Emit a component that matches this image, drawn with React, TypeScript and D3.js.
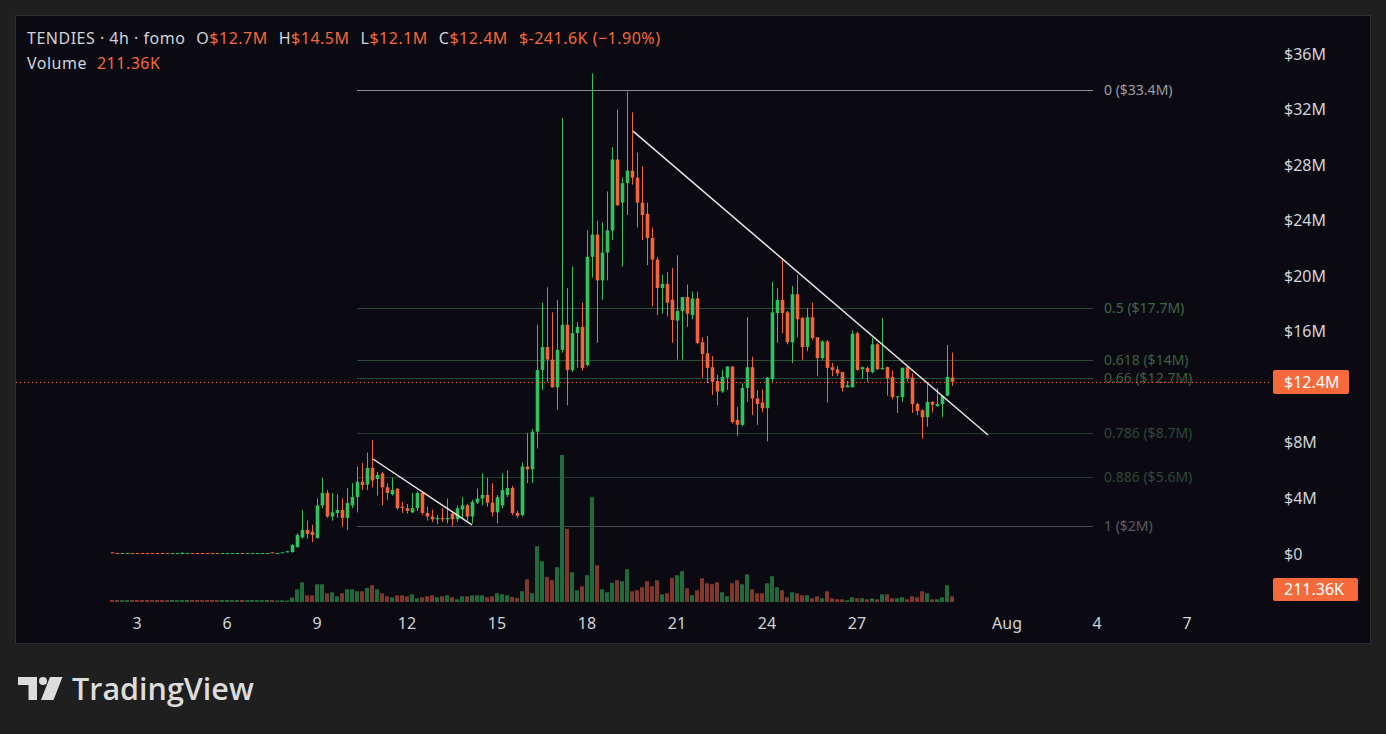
import * as d3 from 'd3';

// 4h candles, first bar opens Jul 2 04:00
const startTime = new Date(2024, 6, 2, 4);

const opens = [
  0.12, 0.07, 0.05, 0.05, 0.07, 0.07, 0.07, 0.07, 0.07, 0.07, 0.07, 0.07, 0.05, 0.05, 0.05, 0.05, 0.07, 0.07,
  0.07, 0.07, 0.07, 0.07, 0.05, 0.05, 0.05, 0.05, 0.07, 0.05, 0.05, 0.05, 0.05, 0.05, 0.12, 0.05, 0.08, 0.12,
  0.14, 0.5, 1.2, 1.73, 1.58, 1.15, 3.5, 4.4, 2.7, 2.95, 3.17, 2.6, 3.5, 4.1, 5.2, 5.0, 6.2, 5.4,
  5.8, 4.8, 4.3, 4.7, 3.4, 3.3, 3.0, 3.3, 4.4, 2.95, 2.7, 2.5, 2.6, 2.5, 2.9, 2.5, 3.2, 3.5,
  2.7, 3.7, 4.0, 4.25, 3.7, 3.0, 3.5, 4.25, 4.75, 2.95, 2.8, 6.3, 6.1, 8.8, 13.25, 14.9, 14.0, 12.0,
  14.7, 16.5, 13.25, 15.9, 16.35, 13.6, 21.4, 23.0, 19.7, 21.7, 23.3, 28.4, 25.3, 26.7, 27.6, 27.1, 25.3, 24.5,
  22.75, 21.2, 19.15, 19.45, 18.3, 16.8, 17.5, 18.5, 17.2, 18.4, 15.25, 14.45, 13.45, 12.45, 11.7, 12.7, 13.5, 9.65,
  9.3, 11.95, 13.45, 11.2, 10.9, 10.5, 12.6, 17.35, 18.3, 17.4, 15.25, 18.7, 17.0, 14.9, 17.05, 15.6, 14.1, 15.3,
  13.45, 13.3, 13.1, 12.0, 12.0, 15.9, 13.3, 13.4, 13.1, 15.1, 13.3, 13.45, 12.75, 11.3, 11.3, 13.45, 12.7, 10.8,
  10.35, 9.85, 10.95, 10.65, 10.8, 11.4, 12.7,
];
const highs = [
  0.13, 0.08, 0.07, 0.07, 0.07, 0.07, 0.07, 0.07, 0.07, 0.07, 0.07, 0.07, 0.07, 0.07, 0.15, 0.07, 0.07, 0.07,
  0.07, 0.07, 0.07, 0.07, 0.07, 0.07, 0.07, 0.07, 0.07, 0.07, 0.07, 0.07, 0.07, 0.07, 0.13, 0.07, 0.12, 0.22,
  0.7, 1.5, 3.17, 2.4, 2.1, 4.0, 5.5, 4.6, 4.4, 4.3, 4.0, 4.75, 5.1, 6.3, 6.55, 7.3, 8.2, 5.9,
  5.9, 5.1, 5.5, 4.75, 3.75, 3.6, 4.4, 4.5, 4.5, 3.4, 3.2, 2.8, 3.3, 4.0, 3.1, 3.5, 4.1, 3.6,
  3.9, 4.7, 5.8, 5.5, 5.1, 4.25, 5.8, 6.0, 4.9, 3.1, 6.6, 8.7, 9.0, 16.5, 18.1, 19.2, 17.4, 18.3,
  31.4, 19.15, 20.7, 16.7, 18.1, 23.3, 34.6, 24.0, 23.9, 26.1, 29.3, 32.0, 27.1, 33.3, 31.8, 28.9, 27.9, 25.3,
  23.5, 21.4, 20.1, 20.3, 20.6, 21.5, 18.5, 19.4, 18.9, 18.9, 15.6, 15.7, 14.25, 12.9, 13.25, 13.5, 13.5, 10.6,
  12.3, 17.05, 14.2, 11.8, 11.85, 12.75, 19.6, 19.15, 21.3, 17.5, 19.3, 20.1, 17.05, 17.7, 18.1, 15.6, 15.4, 15.4,
  13.75, 13.55, 13.1, 12.45, 16.1, 16.0, 13.5, 13.5, 15.55, 15.2, 17.0, 13.5, 13.2, 11.35, 13.45, 13.5, 13.0, 10.9,
  10.4, 12.3, 11.0, 11.95, 11.45, 15.05, 14.5,
];
const lows = [
  0.1, 0.05, 0.05, 0.05, 0.05, 0.05, 0.05, 0.05, 0.05, 0.05, 0.05, 0.05, 0.05, 0.05, 0.05, 0.05, 0.05, 0.05,
  0.05, 0.05, 0.05, 0.05, 0.05, 0.05, 0.05, 0.05, 0.05, 0.05, 0.05, 0.05, 0.05, 0.05, 0.1, 0.05, 0.08, 0.12,
  0.1, 0.45, 1.1, 1.1, 0.86, 1.1, 3.3, 2.6, 2.4, 2.6, 1.95, 1.73, 3.3, 3.0, 4.6, 4.6, 4.8, 4.2,
  3.5, 3.9, 4.2, 3.2, 2.95, 2.9, 2.95, 3.1, 2.8, 2.4, 2.3, 2.15, 2.3, 2.2, 2.0, 2.3, 2.6, 2.4,
  2.2, 3.6, 3.5, 3.4, 2.7, 2.2, 3.3, 4.1, 2.8, 2.6, 2.7, 5.1, 5.1, 7.6, 11.8, 12.4, 12.0, 10.4,
  14.5, 10.7, 13.1, 13.4, 13.2, 13.5, 19.9, 15.2, 18.3, 19.7, 22.6, 25.1, 20.7, 24.4, 26.6, 23.5, 22.6, 20.8,
  17.8, 17.2, 17.3, 17.1, 15.2, 14.0, 14.0, 16.35, 16.9, 15.1, 12.7, 12.3, 11.45, 10.7, 11.6, 11.8, 9.4, 8.5,
  9.2, 10.95, 10.0, 9.3, 10.2, 8.1, 12.4, 15.2, 15.9, 15.1, 13.75, 15.6, 14.0, 14.6, 15.4, 12.8, 14.0, 10.9,
  12.8, 12.8, 11.7, 12.0, 12.0, 13.2, 12.6, 12.4, 13.0, 13.25, 13.3, 11.4, 11.15, 10.15, 10.95, 12.4, 10.15, 10.0,
  8.3, 9.15, 10.2, 10.6, 9.85, 11.35, 12.1,
];
const closes = [
  0.1, 0.05, 0.07, 0.07, 0.05, 0.05, 0.05, 0.05, 0.05, 0.05, 0.05, 0.05, 0.07, 0.07, 0.07, 0.07, 0.05, 0.05,
  0.05, 0.05, 0.05, 0.05, 0.07, 0.07, 0.07, 0.07, 0.05, 0.07, 0.07, 0.07, 0.07, 0.07, 0.1, 0.07, 0.12, 0.2,
  0.65, 1.37, 1.73, 1.44, 1.37, 3.5, 4.4, 2.7, 3.0, 3.17, 2.6, 3.67, 4.1, 5.2, 4.97, 6.2, 5.3, 5.7,
  4.8, 4.4, 4.6, 3.3, 3.3, 3.1, 3.3, 4.4, 2.95, 2.7, 2.5, 2.6, 2.5, 2.6, 2.5, 3.3, 3.5, 2.7,
  3.75, 4.0, 4.25, 3.7, 3.0, 4.1, 4.6, 4.75, 2.95, 2.75, 6.3, 6.1, 8.8, 13.25, 14.9, 14.0, 12.0, 14.7,
  16.5, 13.25, 15.9, 16.35, 13.4, 21.4, 23.0, 19.7, 21.7, 23.3, 28.4, 25.1, 26.7, 27.6, 27.1, 25.3, 24.4, 22.75,
  21.2, 19.15, 19.45, 18.1, 16.85, 17.5, 18.5, 17.3, 18.4, 15.2, 14.4, 13.4, 12.4, 11.7, 12.75, 13.5, 9.5, 9.3,
  11.95, 13.45, 11.2, 10.8, 10.5, 12.7, 17.4, 18.3, 17.35, 15.25, 18.7, 16.9, 14.9, 17.05, 15.55, 14.1, 15.3, 13.4,
  13.25, 13.0, 11.95, 12.15, 15.85, 13.25, 13.45, 13.1, 15.1, 13.3, 13.4, 12.65, 11.3, 11.35, 13.4, 12.65, 10.8, 10.3,
  9.85, 10.95, 10.75, 10.8, 11.4, 12.75, 12.4,
];
// volume in K
const volumes = [
  74, 74, 70, 70, 74, 78, 74, 74, 70, 74, 74, 70, 74, 70, 78, 74, 74, 74,
  70, 74, 74, 70, 74, 74, 70, 74, 74, 70, 74, 74, 70, 74, 74, 59, 66, 56,
  166, 470, 729, 248, 248, 655, 655, 322, 359, 211, 322, 470, 470, 396, 396, 518, 618, 470,
  322, 211, 174, 248, 248, 211, 285, 137, 174, 211, 248, 174, 211, 248, 174, 100, 211, 211,
  248, 248, 248, 174, 211, 322, 285, 248, 185, 148, 396, 840, 322, 2061, 1506, 925, 803, 1284,
  5428, 2701, 1099, 433, 581, 988, 3874, 1358, 470, 359, 703, 803, 766, 1210, 396, 433, 544, 766,
  581, 803, 285, 322, 888, 988, 1136, 507, 248, 433, 877, 692, 655, 729, 359, 211, 692, 803,
  655, 1025, 470, 322, 322, 692, 951, 544, 433, 174, 359, 322, 248, 248, 137, 211, 137, 396,
  137, 100, 100, 63, 174, 137, 137, 100, 137, 100, 285, 285, 137, 137, 174, 100, 211, 174,
  396, 322, 100, 100, 174, 618, 211.36,
];

const priceTicks = [0, 4, 8, 12, 16, 20, 24, 28, 32, 36];
const dateTicks = [3, 6, 9, 12, 15, 18, 21, 24, 27].map((d) => new Date(2024, 6, d))
  .concat([1, 4, 7].map((d) => new Date(2024, 7, d)));

const fibHigh = 33.4;
const fibLow = 2;
const fibLevels = [0, 0.5, 0.618, 0.66, 0.786, 0.886, 1];
const fibStyle: Record<string, { line: string; text: string }> = {
  '0': { line: '#8d8f96', text: '#9c9ea5' },
  '0.5': { line: '#2f4a37', text: '#3f6848' },
  '0.618': { line: '#2f4a37', text: '#3b6043' },
  '0.66': { line: '#2f4a37', text: '#3b6043' },
  '0.786': { line: '#26382c', text: '#2f4838' },
  '0.886': { line: '#26382c', text: '#2f4838' },
  '1': { line: '#4a4b50', text: '#5b5c61' },
};
// trend lines drawn by bar index and price
const trendLines = [
  { i0: 52.2, p0: 6.84, i1: 72, p1: 2.09 },
  { i0: 104.2, p0: 30.45, i1: 175.2, p1: 8.57 },
];

const UP = '#2fc25e';
const DOWN = '#f2643a';
const UP_VOL = '#1f6b3c';
const DOWN_VOL = '#80382a';
const ORANGE = '#f5693a';
const LABEL = '#d1d4dc';
const FONT = '"Noto Sans", sans-serif';

const fmtM = (v: number) => `$${d3.format('~f')(Math.round(v * 10) / 10)}M`;

export default function App() {
  const W = 1386;
  const H = 734;
  const timeOf = (i: number) => new Date(startTime.getTime() + i * 4 * 3600 * 1000);
  const x = d3.scaleTime().domain([new Date(2024, 6, 3), new Date(2024, 7, 7)]).range([137, 1187]);
  const y = d3.scaleLinear().domain([0, 36]).range([554, 54]);
  const yVol = d3.scaleLinear().domain([0, d3.max(volumes) as number]).range([602, 455]);

  const last = closes.length - 1;
  const lastY = Math.round(y(closes[last]));
  const xLeft = x(timeOf(49));
  const xRight = x(timeOf(196.2));

  // tick labels hidden under the last-price badge
  const visibleTicks = priceTicks.filter((p) => Math.abs(y(p) - lastY) > 14);

  return (
    <svg width={W} height={H} style={{ position: 'fixed', left: 0, top: 0 }} fontFamily={FONT}>
      <rect width={W} height={H} fill="#1f1f1f" />
      <rect x={15.5} y={15.5} width={1355} height={628} fill="#0b0a12" stroke="#2f2f33" />

      {/* fib retracement */}
      {fibLevels.map((lv) => {
        const p = fibHigh - lv * (fibHigh - fibLow);
        const yy = Math.round(y(p)) + 0.5;
        const st = fibStyle[String(lv)];
        return (
          <g key={lv}>
            <line x1={xLeft} x2={xRight} y1={yy} y2={yy} stroke={st.line} strokeWidth={1} />
            <text x={xRight + 11} y={yy} dy="0.35em" fontSize={14} fill={st.text}>
              {`${lv} (${fmtM(p)})`}
            </text>
          </g>
        );
      })}

      {/* volume */}
      {volumes.map((v, i) => {
        const cx = x(timeOf(i));
        const up = closes[i] >= opens[i];
        return (
          <rect key={i} x={cx - 2} width={4} y={yVol(v)} height={yVol(0) - yVol(v)}
            fill={up ? UP_VOL : DOWN_VOL} />
        );
      })}

      {/* candles */}
      {opens.map((o, i) => {
        const cx = Math.round(x(timeOf(i)));
        const c = closes[i];
        const up = c >= o;
        const col = up ? UP : DOWN;
        const top = Math.min(y(o), y(c));
        const hgt = Math.max(1, Math.abs(y(o) - y(c)));
        return (
          <g key={i}>
            <line x1={cx + 0.5} x2={cx + 0.5} y1={y(highs[i])} y2={y(lows[i])} stroke={col} strokeWidth={1} />
            <rect x={cx - 1.3} width={3.6} y={top} height={hgt} fill={col} />
          </g>
        );
      })}

      {/* trend lines */}
      {trendLines.map((t, k) => (
        <line key={k} x1={x(timeOf(t.i0))} y1={y(t.p0)} x2={x(timeOf(t.i1))} y2={y(t.p1)}
          stroke="#e6e6e6" strokeWidth={1.5} />
      ))}

      {/* last price line */}
      <line x1={16} x2={1272} y1={lastY + 0.5} y2={lastY + 0.5}
        stroke={ORANGE} strokeWidth={1} strokeDasharray="1 3" />

      {/* price axis */}
      {visibleTicks.map((p) => (
        <text key={p} x={1284} y={y(p)} dy="0.35em" fontSize={16} fill={LABEL}>
          {p === 0 ? '$0' : `$${p}M`}
        </text>
      ))}
      <rect x={1273} y={lastY - 12} width={76} height={24} rx={2} fill={ORANGE} />
      <text x={1284} y={lastY} dy="0.36em" fontSize={16} fill="#ffffff">
        {fmtM(closes[last])}
      </text>
      <rect x={1273} y={578} width={85} height={23} rx={2} fill={ORANGE} />
      <text x={1284} y={589.5} dy="0.36em" fontSize={16} fill="#ffffff">211.36K</text>

      {/* time axis */}
      {dateTicks.map((d, k) => (
        <text key={k} x={x(d)} y={623} dy="0.35em" fontSize={16} fill={LABEL} textAnchor="middle">
          {d.getDate() === 1 ? d3.timeFormat('%b')(d) : d3.timeFormat('%-d')(d)}
        </text>
      ))}

      {/* legend */}
      <text x={27} y={38} dy="0.35em" fontSize={16} letterSpacing={0.5} fill={LABEL}>
        <tspan>TENDIES · 4h · fomo</tspan>
        <tspan dx={11}>O</tspan>
        <tspan fill={ORANGE}>{fmtM(opens[last])}</tspan>
        <tspan dx={11}>H</tspan>
        <tspan fill={ORANGE}>{fmtM(highs[last])}</tspan>
        <tspan dx={11}>L</tspan>
        <tspan fill={ORANGE}>{fmtM(lows[last])}</tspan>
        <tspan dx={11}>C</tspan>
        <tspan fill={ORANGE}>{fmtM(closes[last])}</tspan>
        <tspan dx={11} fill={ORANGE}>$-241.6K (−1.90%)</tspan>
      </text>
      <text x={27} y={63} dy="0.35em" fontSize={16} letterSpacing={0.5} fill={LABEL}>
        <tspan>Volume</tspan>
        <tspan dx={10} fill={ORANGE}>211.36K</tspan>
      </text>

      {/* TradingView mark */}
      <g fill="#dcdcdc">
        <path d="M18,677 H37 V700 H28.5 V685 H18 Z" />
        <circle cx={43} cy={681} r={4} />
        <path d="M50,677 H62.5 L53.5,700 H41 Z" />
        <text x={72} y={700} fontSize={30.5} fontWeight={600} fontFamily='"Open Sans", sans-serif'>TradingView</text>
      </g>
    </svg>
  );
}
